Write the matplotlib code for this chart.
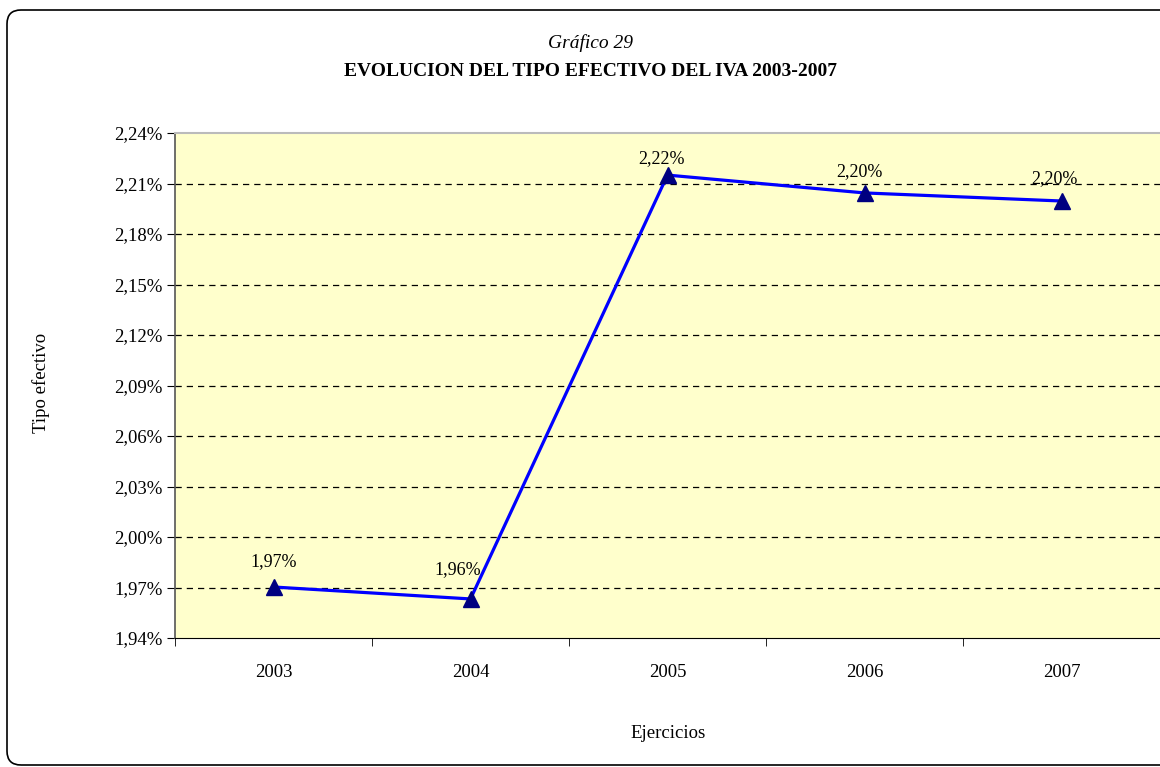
import matplotlib
matplotlib.use("Agg")
import matplotlib.pyplot as plt
from matplotlib.patches import FancyBboxPatch
from matplotlib.ticker import FixedLocator, FuncFormatter

# datos (tipo efectivo del IVA, %)
years = ["2003", "2004", "2005", "2006", "2007"]
values = [1.9703, 1.9632, 2.2150, 2.2044, 2.1996]
labels = ["1,97%", "1,96%", "2,22%", "2,20%", "2,20%"]
yticks = [1.94, 1.97, 2.00, 2.03, 2.06, 2.09, 2.12, 2.15, 2.18, 2.21, 2.24]
label_offsets = [(0, 18), (-9, 21), (-4, 12), (-4, 15), (-5, 16)]  # pontos

plt.rcParams["font.family"] = ["Liberation Serif", "DejaVu Serif"]

fig = plt.figure(figsize=(11.6, 7.67), dpi=100)
fig.patches.append(FancyBboxPatch((7/1160, 2/767), 1.2, 755/767,
                   boxstyle="round,pad=0,rounding_size=0.012",
                   transform=fig.transFigure, lw=1.2, edgecolor="black",
                   facecolor="none", mutation_aspect=1160/767))

ax = fig.add_axes([175/1160, 1 - 638/767, 1 - 175/1160, 505/767])
ax.set_facecolor("#FFFFCC")
x = list(range(len(years)))
ax.plot(x, values, color="#0000FF", lw=2.3, marker="^", ms=12,
        markerfacecolor="#000080", markeredgecolor="#000080", zorder=3)
for xi, v, lab, off in zip(x, values, labels, label_offsets):
    ax.annotate(lab, (xi, v), xytext=off, textcoords="offset points",
                ha="center", va="center", fontsize=13)

ax.set_xlim(-0.5, 4.5)
ax.set_ylim(1.94, 2.24)
ax.set_xticks(x)
ax.set_xticklabels(years, fontsize=13.5)
ax.xaxis.set_minor_locator(FixedLocator([i - 0.5 for i in range(6)]))
ax.tick_params(axis="x", which="major", length=0, pad=19)
ax.tick_params(axis="x", which="minor", length=6, direction="out")
ax.set_yticks(yticks)
ax.yaxis.set_major_formatter(FuncFormatter(lambda v, p: f"{v:.2f}%".replace(".", ",")))
ax.tick_params(axis="y", length=6, direction="out", labelsize=13.5, pad=3)
for t in yticks[1:-1]:
    ax.axhline(t, color="black", lw=0.9, ls=(0, (5, 4)), zorder=1)

ax.spines["top"].set_color("#BBBBBB")
ax.spines["top"].set_linewidth(1.5)
ax.spines["left"].set_color("#555555")
ax.spines["left"].set_linewidth(1.2)
ax.spines["bottom"].set_color("black")
ax.spines["right"].set_visible(False)

fig.text(590/1160, 1 - 43/767, "Gráfico 29", ha="center", va="center",
         fontsize=14, style="italic")
fig.text(590/1160, 1 - 71/767, "EVOLUCION DEL TIPO EFECTIVO DEL IVA 2003-2007",
         ha="center", va="center", fontsize=14, weight="bold")
fig.text(41/1160, 1 - 383/767, "Tipo efectivo", ha="center", va="center",
         rotation=90, fontsize=13.5)
fig.text(668/1160, 1 - 733/767, "Ejercicios", ha="center", va="center",
         fontsize=13.5)

fig.savefig("out.png", dpi=100)
